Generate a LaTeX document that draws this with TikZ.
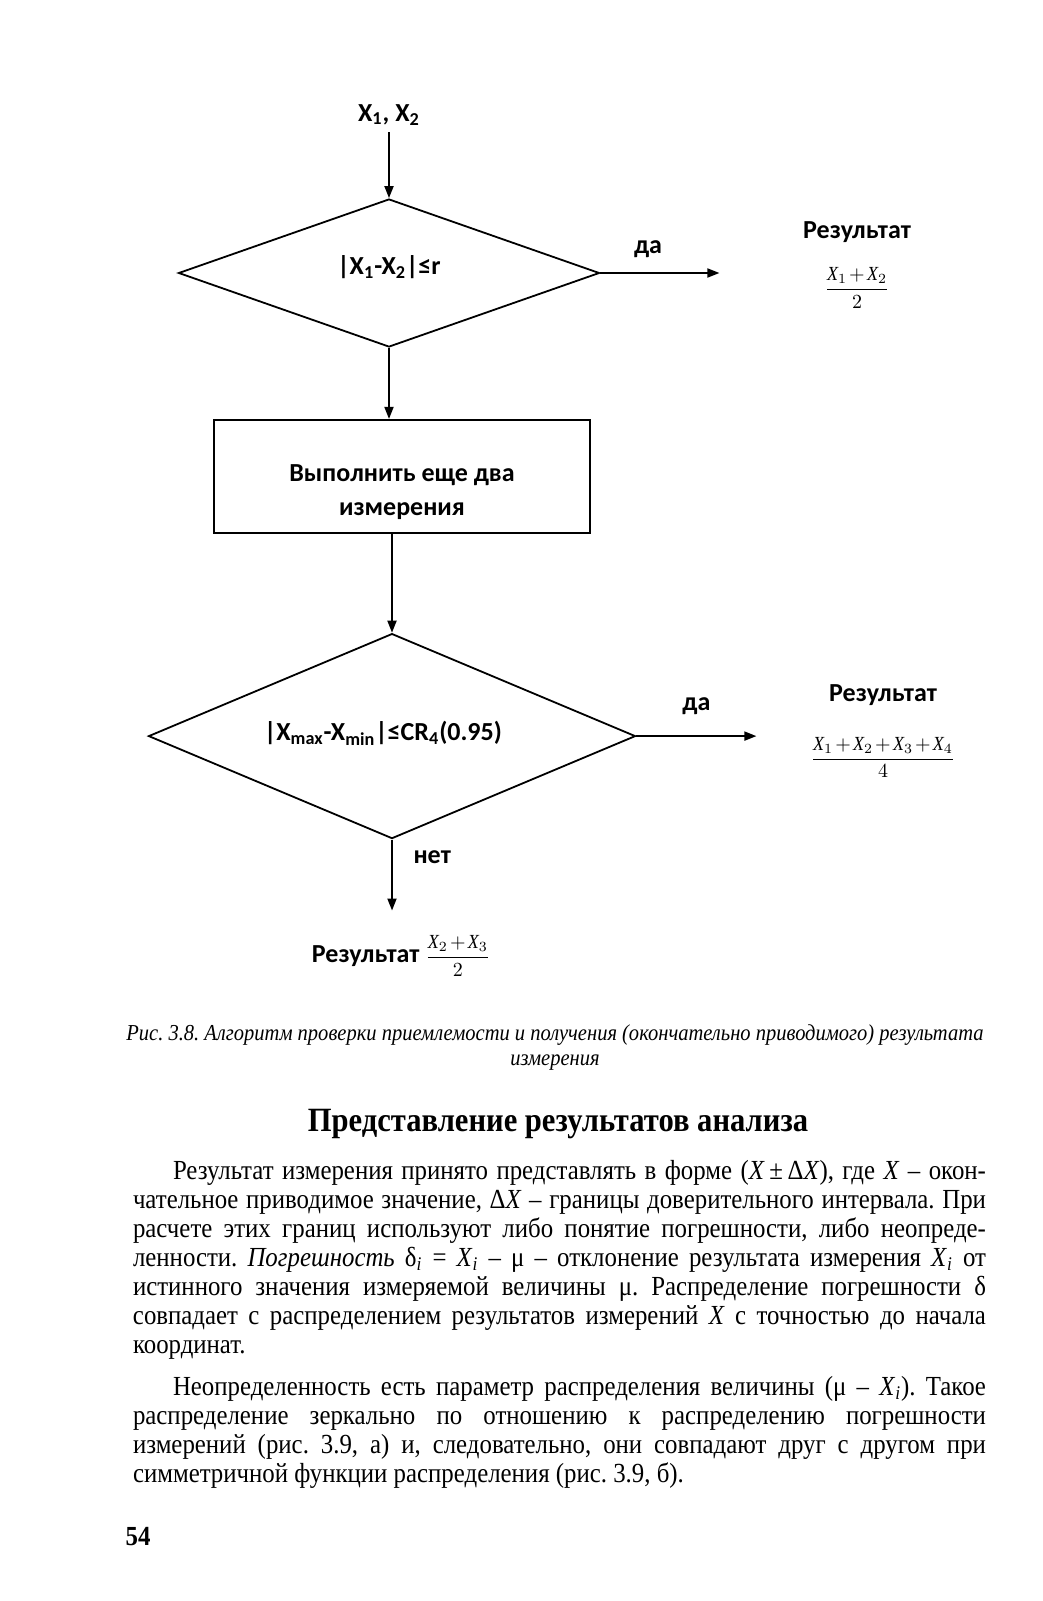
\documentclass[tikz,border=0pt]{standalone}
\usepackage{fontspec}
\setmainfont{Liberation Serif}
\newfontfamily\chartfont{Carlito}
\newfontfamily\bookfont[FakeStretch=0.9]{Liberation Serif}
\usetikzlibrary{positioning, shapes.geometric, arrows.meta}
\frenchspacing
\newcommand\jline[1]{\makebox[426.5pt][s]{#1}}
\newcommand\frc[2]{{\fontsize{10}{11}\selectfont\medmuskip=2mu$\displaystyle\frac{#1}{#2}$}}
\newcommand\vX[1]{\mbox{\bookfont\mdseries\itshape X}_{#1}}
\newcommand\ivar[2]{\textit{#1}\textsubscript{\textit{#2}}}

\begin{document}
\begin{tikzpicture}[
    x=0.5pt, y=-0.5pt,
    every node/.style={font=\chartfont\bfseries\fontsize{13}{15}\selectfont, align=center},
    decision/.style={diamond, draw, line width=0.9pt, inner sep=0pt, aspect=2.5},
    process/.style ={rectangle, draw, line width=0.9pt, minimum width=188pt, minimum height=56.5pt},
    result/.style  ={inner sep=2pt},
    arrow/.style   ={-{Triangle[length=6pt,width=4.5pt]}, line width=0.9pt},
    caption/.style ={font=\bookfont\itshape\fontsize{11.4}{12.5}\selectfont},
    heading/.style ={font=\bookfont\bfseries\fontsize{17}{19}\selectfont},
    para/.style    ={font=\bookfont\mdseries\fontsize{13.8}{14.5}\selectfont, align=left, inner sep=0pt},
    node distance=10pt
]
\useasboundingbox (0,0) rectangle (1043,1601);

% ========== Check 1 ==========
\node[decision, minimum width=210.5pt, minimum height=74pt] (cond1) at (389,273)
    {\rule[-8pt]{0pt}{8pt}|X\textsubscript{1}-X\textsubscript{2}|≤r};
\node[above=33pt of cond1] (start) {X\textsubscript{1}, X\textsubscript{2}};
\coordinate[right=59.5pt of cond1.east] (yes1);
\node[result] (res1) at (857,265) {Результат\\[11.5pt]\frc{\vX1+\vX2}{2}};

% ========== Two more measurements ==========
\node[process, below=35.5pt of cond1, xshift=6.5pt] (act)
    {\rule{0pt}{24pt}Выполнить еще два\\[2pt]измерения};

% ========== Check 2 ==========
\node[decision, minimum width=243.5pt, minimum height=102.5pt, below=49.5pt of act, xshift=-5pt] (cond2)
    {\rule[-5pt]{0pt}{5pt}|X\textsubscript{max}-X\textsubscript{min}|≤CR\textsubscript{4}(0.95)\hspace*{9pt}};
\coordinate[right=60pt of cond2.east] (yes2);
\node[result] (res2) at (883,731) {Результат\\[15pt]\frc{\vX1+\vX2+\vX3+\vX4}{4}};
\coordinate[below=35.5pt of cond2.south] (no2);
\node[result] (res3) at (401,956) {Результат \frc{\vX2+\vX3}{2}};

% ========== Arrows ==========
\draw[arrow] (start) -- (cond1.north);
\draw[arrow] (cond1.east) -- node[above=4pt, pos=0.4]{да} (yes1);
\draw[arrow] (cond1.south) -- (cond1.south |- act.north);
\draw[arrow] (cond2.north |- act.south) -- (cond2.north);
\draw[arrow] (cond2.east) -- node[above=7pt, pos=0.5]{да} (yes2);
\draw[arrow] (cond2.south) -- node[right=7pt, pos=0.25]{нет} (no2);

% ========== Caption and text ==========
\node[caption] (cap) at (555,1048)
    {Рис. 3.8. Алгоритм проверки приемлемости и получения (окончательно приводимого) результата\\измерения};
\node[heading] (head) at (558,1124) {Представление результатов анализа};

\node[para] (par1) at (559.5,1260) {%
\jline{\hspace*{20pt}Результат измерения принято представлять в форме (\textit{X}\,±\,Δ\textit{X}), где \textit{X} – окон-}\\
\jline{чательное приводимое значение, Δ\textit{X} – границы доверительного интервала. При}\\
\jline{расчете этих границ используют либо понятие погрешности, либо неопреде-}\\
\jline{ленности. \textit{Погрешность} δ\textsubscript{\textit{i}} = \ivar{X}{i} – μ – отклонение результата измерения \ivar{X}{i} от}\\
\jline{истинного значения измеряемой величины μ. Распределение погрешности δ}\\
\jline{совпадает с распределением результатов измерений \textit{X} с точностью до начала}\\
координат.};

\node[para] (par2) at (559.5,1432) {%
\jline{\hspace*{20pt}Неопределенность есть параметр распределения величины (μ – \ivar{X}{i}). Такое}\\
\jline{распределение зеркально по отношению к распределению погрешности}\\
\jline{измерений (рис.~3.9, а) и, следовательно, они совпадают друг с другом при}\\
симметричной функции распределения (рис.~3.9, б).};

\node[font=\bookfont\bfseries\fontsize{13.8}{14.5}\selectfont] (page) at (138,1537) {54};
\end{tikzpicture}
\end{document}
